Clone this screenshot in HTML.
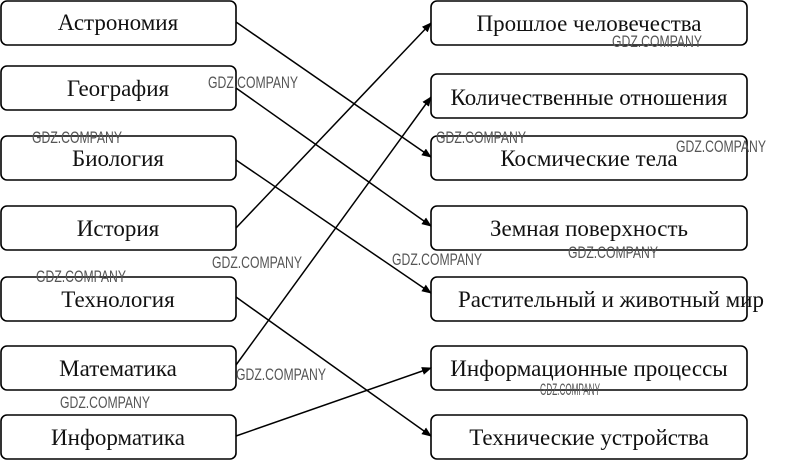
<!DOCTYPE html>
<html><head><meta charset="utf-8"><style>
body{margin:0;width:795px;height:461px;background:#fff;overflow:hidden}
svg{position:absolute;left:0;top:0}
text{font-family:"Liberation Serif",serif;font-size:23px;fill:#111}
text.w{font-family:"Liberation Sans",sans-serif;font-size:17px;fill:#555}
</style></head><body>
<svg width="795" height="461" viewBox="0 0 795 461">
<defs><marker id="a" markerWidth="10" markerHeight="8" refX="9" refY="4" orient="auto" markerUnits="userSpaceOnUse"><path d="M0,0 L10,4 L0,8 z" fill="#000"/></marker></defs>
<g fill="#fff" stroke="#000" stroke-width="1.6">
<rect x="1" y="1" width="235" height="44" rx="6"/>
<rect x="1" y="66" width="235" height="44" rx="6"/>
<rect x="1" y="136" width="235" height="44" rx="6"/>
<rect x="1" y="206" width="235" height="44" rx="6"/>
<rect x="1" y="277" width="235" height="44" rx="6"/>
<rect x="1" y="346" width="235" height="44" rx="6"/>
<rect x="1" y="415" width="235" height="44" rx="6"/>
<rect x="431" y="1" width="316" height="44" rx="6"/>
<rect x="431" y="74" width="316" height="44" rx="6"/>
<rect x="431" y="136" width="316" height="44" rx="6"/>
<rect x="431" y="206" width="316" height="44" rx="6"/>
<rect x="431" y="277" width="316" height="44" rx="6"/>
<rect x="431" y="346" width="316" height="44" rx="6"/>
<rect x="431" y="415" width="316" height="44" rx="6"/>
</g>
<g stroke="#000" stroke-width="1.5" marker-end="url(#a)">
<line x1="236" y1="22" x2="431" y2="157"/>
<line x1="236" y1="88" x2="431" y2="226"/>
<line x1="236" y1="160" x2="431" y2="293"/>
<line x1="236" y1="228" x2="431" y2="23"/>
<line x1="236" y1="297" x2="431" y2="436"/>
<line x1="236" y1="365" x2="431" y2="97"/>
<line x1="236" y1="436" x2="431" y2="368"/>
</g>
<g text-anchor="middle">
<text x="118" y="30">Астрономия</text>
<text x="118" y="96">География</text>
<text x="118" y="166">Биология</text>
<text x="118" y="236">История</text>
<text x="118" y="307">Технология</text>
<text x="118" y="376">Математика</text>
<text x="118" y="445">Информатика</text>
<text x="589" y="31">Прошлое человечества</text>
<text x="589" y="105">Количественные отношения</text>
<text x="589" y="166">Космические тела</text>
<text x="589" y="236">Земная поверхность</text>
<text x="611" y="307">Растительный и животный мир</text>
<text x="589" y="376">Информационные процессы</text>
<text x="589" y="445">Технические устройства</text>
</g>
<g>
<text class="w" x="208" y="88" textLength="90" lengthAdjust="spacingAndGlyphs">GDZ.COMPANY</text>
<text class="w" x="32" y="143" textLength="90" lengthAdjust="spacingAndGlyphs">GDZ.COMPANY</text>
<text class="w" x="212" y="268" textLength="90" lengthAdjust="spacingAndGlyphs">GDZ.COMPANY</text>
<text class="w" x="236" y="380" textLength="90" lengthAdjust="spacingAndGlyphs">GDZ.COMPANY</text>
<text class="w" x="392" y="265" textLength="90" lengthAdjust="spacingAndGlyphs">GDZ.COMPANY</text>
<text class="w" x="36" y="282" textLength="90" lengthAdjust="spacingAndGlyphs">GDZ.COMPANY</text>
<text class="w" x="60" y="408" textLength="90" lengthAdjust="spacingAndGlyphs">GDZ.COMPANY</text>
<text class="w" x="612" y="47" textLength="90" lengthAdjust="spacingAndGlyphs">GDZ.COMPANY</text>
<text class="w" x="676" y="152" textLength="90" lengthAdjust="spacingAndGlyphs">GDZ.COMPANY</text>
<text class="w" x="436" y="143" textLength="90" lengthAdjust="spacingAndGlyphs">GDZ.COMPANY</text>
<text class="w" x="568" y="258" textLength="90" lengthAdjust="spacingAndGlyphs">GDZ.COMPANY</text>
<text class="w" x="540" y="395" textLength="60" lengthAdjust="spacingAndGlyphs">GDZ.COMPANY</text>
</g>
</svg>
</body></html>
